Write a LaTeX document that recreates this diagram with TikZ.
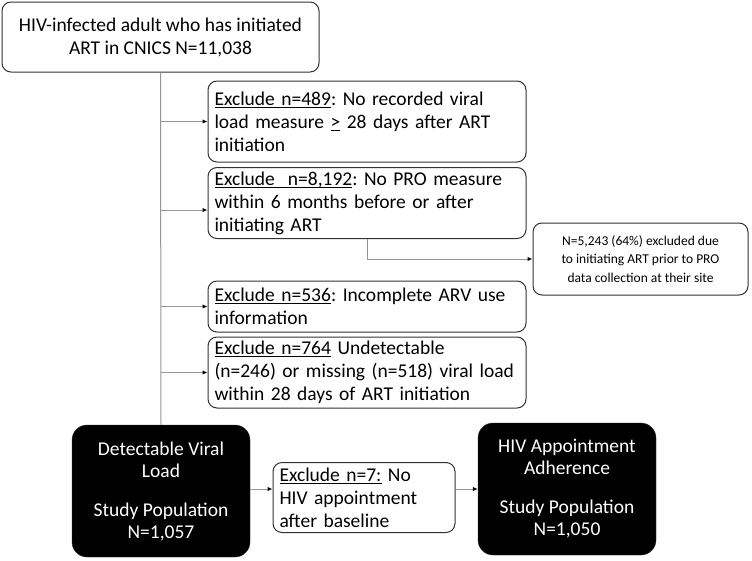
\documentclass[tikz,border=0pt]{standalone}
\usepackage{fontspec}
\setmainfont{Carlito}
\usetikzlibrary{arrows.meta}
\frenchspacing

\definecolor{lnk}{RGB}{150,150,150}
\definecolor{edge}{RGB}{50,50,50}
\newcommand\ulin[1]{\setbox0\hbox{#1}\rlap{\rule[-2.4pt]{\wd0}{0.9pt}}\box0\relax}

\tikzset{
  startbox/.style={draw=edge, line width=1pt, rounded corners=9pt, align=center,
    minimum width=317pt, minimum height=70pt, font=\fontsize{19.5}{23}\selectfont},
  exclbox/.style={draw=edge, line width=1pt, rounded corners=9pt, align=left,
    text width=305pt, inner xsep=6.5pt, minimum width=318pt, font=\fontsize{19.5}{23}\selectfont},
  notebox/.style={draw=edge, line width=1pt, rounded corners=9pt, align=center,
    minimum width=215pt, minimum height=72pt, font=\fontsize{13.5}{18.5}\selectfont},
  popbox/.style={fill=black, draw=edge, rounded corners=15pt, align=center, text=white,
    minimum width=178pt, minimum height=132pt, font=\fontsize{19.5}{22}\selectfont},
  arr/.style={draw=lnk, line width=1pt, -{Latex[length=5pt,width=4.5pt,color=black]}},
  link/.style={draw=lnk, line width=1pt}
}

\begin{document}
\begin{tikzpicture}[x=1pt,y=-1pt]
    \useasboundingbox (0,0) rectangle (752,560);
    % start
    \node[startbox] (start) at (160.5,37) {HIV-infected adult who has initiated\\ART in CNICS N=11,038};
    % exclusions
    \node[exclbox, minimum height=81pt] (ex1) at (367,121.5) {\ulin{Exclude n=489}: No recorded viral\\load measure \ulin{>} 28 days after ART\\initiation};
    \node[exclbox, minimum height=71pt] (ex2) at (367,203) {\ulin{Exclude~~n=8,192}: No PRO measure\\within 6 months before or after\\initiating ART};
    \node[notebox] (note) at (640.5,259) {N=5,243 (64\%) excluded due\\to initiating ART prior to PRO\\data collection at their site};
    \node[exclbox, minimum height=51pt] (ex3) at (367,306.5) {\ulin{Exclude n=536}: Incomplete ARV use\\information};
    \node[exclbox, minimum height=71pt] (ex4) at (367,372.5) {\ulin{Exclude n=764} Undetectable\\(n=246) or missing (n=518) viral load\\within 28 days of ART initiation};
    % populations
    \node[popbox] (detect) at (161,491) {Detectable Viral\\Load\\[17pt]Study Population\\N=1,057};
    \node[exclbox, text width=169pt, minimum width=182pt, minimum height=70pt] (ex7) at (364,497.5) {\ulin{Exclude n=7:} No\\HIV appointment\\after baseline};
    \node[popbox] (appt) at (567,489) {HIV Appointment\\Adherence\\[17pt]Study Population\\N=1,050};

    % trunk and arrows
    \draw[link] (start.south) -- (detect.north);
    \coordinate (j1) at (161,121.5);
    \coordinate (j2) at (161,210);
    \coordinate (j3) at (161,306.5);
    \coordinate (j4) at (161,372.5);
    \draw[arr] (j1) -- (j1 -| ex1.west);
    \draw[arr] (j2) -- (j2 -| ex2.west);
    \draw[arr] (j3) -- (j3 -| ex3.west);
    \draw[arr] (j4) -- (j4 -| ex4.west);
    \draw[arr] (ex2.south) |- (note.west);
    \draw[arr] (detect.east |- appt.west) -- (ex7.west |- appt.west);
    \draw[arr] (ex7.east |- appt.west) -- (appt.west);
\end{tikzpicture}
\end{document}
